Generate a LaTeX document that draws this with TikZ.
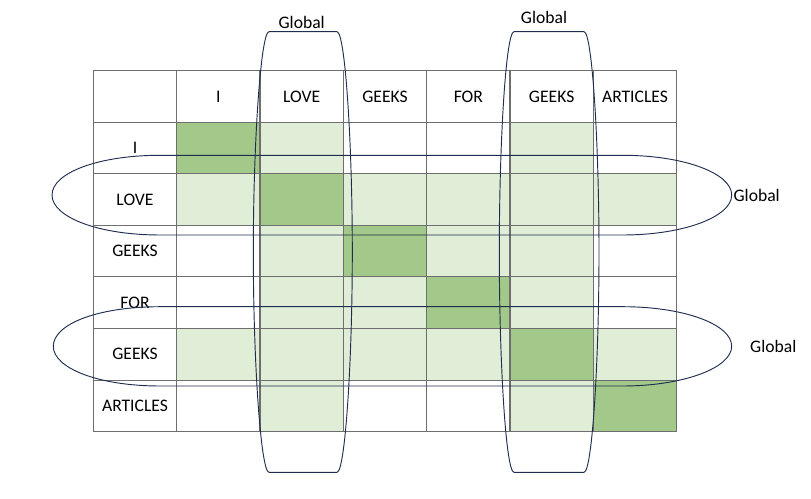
\documentclass[tikz,border=0pt]{standalone}
\usepackage{fontspec}
\setmainfont{Carlito}
\definecolor{cellstrong}{HTML}{A2C98A}
\definecolor{cellweak}{HTML}{E0EED7}
\definecolor{gridgray}{HTML}{6E6E6E}
\definecolor{ovalblue}{HTML}{1F2D4E}
\tikzset{
    lbl/.style={font=\fontsize{13.2}{16}\selectfont, inner sep=1pt},
    gridline/.style={draw=gridgray, line width=0.8pt},
    oval/.style={draw=ovalblue, line width=0.7pt}
}
\begin{document}
\begin{tikzpicture}[x=0.75pt,y=-0.75pt]
        \useasboundingbox (0,0) rectangle (811,499);

        % cells, grid and labels in cell units
        \begin{scope}[shift={(93.33,70.67)}, x=62.5pt, y=-38.68pt]
        \foreach \c/\r in {2/1,5/1, 1/2,3/2,4/2,5/2,6/2, 2/3,4/3,5/3,
                           2/4,3/4,5/4, 1/5,2/5,3/5,4/5,6/5, 2/6,5/6}
            \fill[cellweak] (\c,\r) rectangle ++(1,1);
        \foreach \c/\r in {1/1,2/2,3/3,4/4,5/5,6/6}
            \fill[cellstrong] (\c,\r) rectangle ++(1,1);
        \foreach \i in {0,...,7} {
            \draw[gridline] (\i,0) -- (\i,7);
            \draw[gridline] (0,\i) -- (7,\i);
        }
        \foreach \w [count=\i] in {I,LOVE,GEEKS,FOR,GEEKS,ARTICLES} {
            \node[lbl] (h\i) at (\i+0.5,0.5) {\w};
            \node[lbl] (r\i) at (0.5,\i+0.5) {\w};
        }
        \end{scope}

        % vertical ovals
        \draw[oval] (269,31.7) -- (337,31.7) .. controls (345,31.7) and (352.3,140) .. (352.3,252)
            .. controls (352.3,364) and (345,472.3) .. (337,472.3) -- (269,472.3)
            .. controls (261,472.3) and (253.3,364) .. (253.3,252)
            .. controls (253.3,140) and (261,31.7) .. (269,31.7) -- cycle;
        \draw[oval] (514,31.7) -- (584,31.7) .. controls (592,31.7) and (599,140) .. (599,252)
            .. controls (599,364) and (592,472.3) .. (584,472.3) -- (514,472.3)
            .. controls (506,472.3) and (499.3,364) .. (499.3,252)
            .. controls (499.3,140) and (506,31.7) .. (514,31.7) -- cycle;

        % horizontal ovals
        \draw[oval] (160,155.3) -- (623,155.3) .. controls (683,155.3) and (731.7,173) .. (731.7,195)
            .. controls (731.7,217) and (683,235) .. (623,235) -- (160,235)
            .. controls (98,235) and (52,217) .. (52,195)
            .. controls (52,173) and (98,155.3) .. (160,155.3) -- cycle;
        \draw[oval] (160,306.7) -- (623,306.7) .. controls (683,306.7) and (731.7,324) .. (731.7,346.3)
            .. controls (731.7,368) and (683,386) .. (623,386) -- (160,386)
            .. controls (98,386) and (53.3,368) .. (53.3,346.3)
            .. controls (53.3,324) and (98,306.7) .. (160,306.7) -- cycle;

        \node[lbl] (gtopa) at (301.7,22.7) {Global};
        \node[lbl] (gtopb) at (544,17.3) {Global};
        \node[lbl] (grighta) at (756.7,195) {Global};
        \node[lbl] (grightb) at (773.3,346.3) {Global};
\end{tikzpicture}
\end{document}
